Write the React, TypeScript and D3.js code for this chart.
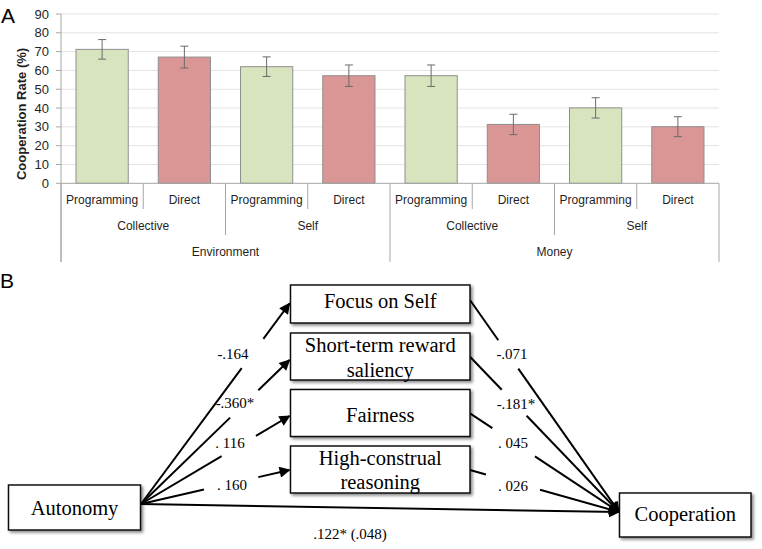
import React from 'react';
import * as d3 from 'd3';

// ---------- Panel A data ----------
const conditions = ["Programming", "Direct", "Programming", "Direct", "Programming", "Direct", "Programming", "Direct"];
const targets = ["Collective", "Self", "Collective", "Self"];
const domains = ["Environment", "Money"];
const cooperationRates = [71.2, 67.1, 62.0, 57.2, 57.2, 31.3, 40.1, 30.1];
const errorMargins = [5.2, 5.8, 5.2, 5.7, 5.7, 5.4, 5.4, 5.3];
const yTicks = [0, 10, 20, 30, 40, 50, 60, 70, 80, 90];

// ---------- Panel B data ----------
const mediators = [["Focus on Self"], ["Short-term reward", "saliency"], ["Fairness"], ["High-construal", "reasoning"]];
const pathA = ["-.164", "-.360*", ". 116", ". 160"];
const pathB = ["-.071", "-.181*", ". 045", ". 026"];
const directEffect = ".122* (.048)";

// ---------- layout ----------
const PLOT = { left: 61, right: 719, top: 14, bottom: 183.3 };
const GREEN = "#d7e4bd";
const RED = "#d99694";

const BOX = {
  autonomy: { x: 8.5, y: 485, w: 132, h: 45, text: 514.5 },
  coop: { x: 619.5, y: 493, w: 131.5, h: 44, text: 521 },
  medX: 290.5,
  medW: 179.5,
  medTop: [285, 333, 389.5, 446],
  medH: [38, 47, 47, 47],
  medBase: [[308], [352, 376.5], [421.5], [464.5, 489]],
};
const ORIGIN = { x: 141, y: 504 };
const SINK = { x: 619, y: 512 };
const leftTipY = [303.5, 360, 416, 470];
const rightStartY = [300, 356.7, 413.3, 470];
const leftGap = [[0.678, 0.824], [0.6, 0.79], [0.543, 0.774], [0.424, 0.79]];
const rightGap = [[0.19, 0.324], [0.213, 0.38], [0.15, 0.436], [0.107, 0.47]];
const leftLabel = [[233, 359], [235, 408], [230, 447.5], [232, 490]];
const rightLabel = [[512, 359], [516, 408.5], [513, 447.5], [513, 491]];

function ChartA() {
  const x = d3.scaleBand<number>().domain(d3.range(conditions.length)).range([PLOT.left, PLOT.right]).padding(0);
  const y = d3.scaleLinear().domain([0, 90]).range([PLOT.bottom, PLOT.top]);
  const bw = x.bandwidth();
  const barW = bw * 0.635;
  const font = "Liberation Sans, Arial, sans-serif";
  const boundaries = d3.range(conditions.length + 1).map((i) => ({
    i,
    x: i < conditions.length ? (x(i) as number) : PLOT.right,
    depth: i % 4 === 0 ? 262 : i % 2 === 0 ? 235 : 209,
  }));
  return (
    <g>
      <text x={1} y={23} fontFamily={font} fontSize={21} fill="#000">A</text>
      {yTicks.filter((t) => t > 0).map((t) => (
        <line key={"g" + t} x1={PLOT.left} x2={PLOT.right} y1={y(t)} y2={y(t)} stroke="#e3e3e3" strokeWidth={1} />
      ))}
      {yTicks.map((t) => (
        <g key={"t" + t}>
          <line x1={56} x2={PLOT.left} y1={y(t)} y2={y(t)} stroke="#a6a6a6" />
          <text x={49} y={y(t)} dy="0.35em" textAnchor="end" fontFamily={font} fontSize={13} fill="#1f1f1f">{t}</text>
        </g>
      ))}
      <text transform={`translate(21.5,${114}) rotate(-90)`} textAnchor="middle" dy="0.35em" fontFamily={font} fontSize={13} fontWeight="bold" fill="#1f1f1f">Cooperation Rate (%)</text>
      {cooperationRates.map((v, i) => {
        const cx = (x(i) as number) + bw / 2;
        return (
          <g key={"b" + i}>
            <rect x={cx - barW / 2} y={y(v)} width={barW} height={y(0) - y(v)} fill={i % 2 === 0 ? GREEN : RED} stroke="#8f8f8f" strokeWidth={1} />
            <line x1={cx} x2={cx} y1={y(v + errorMargins[i])} y2={y(v - errorMargins[i])} stroke="#6b6b6b" strokeWidth={1} />
            <line x1={cx - 4} x2={cx + 4} y1={y(v + errorMargins[i])} y2={y(v + errorMargins[i])} stroke="#6b6b6b" strokeWidth={1} />
            <line x1={cx - 4} x2={cx + 4} y1={y(v - errorMargins[i])} y2={y(v - errorMargins[i])} stroke="#6b6b6b" strokeWidth={1} />
            <text x={cx} y={204} textAnchor="middle" fontFamily={font} fontSize={12} fill="#1f1f1f">{conditions[i]}</text>
          </g>
        );
      })}
      <line x1={PLOT.left} x2={PLOT.right} y1={y(0)} y2={y(0)} stroke="#a6a6a6" strokeWidth={1} />
      <line x1={PLOT.left} x2={PLOT.left} y1={PLOT.top} y2={262} stroke="#a6a6a6" strokeWidth={1} />
      {boundaries.map((b) => (
        <line key={"s" + b.i} x1={b.x} x2={b.x} y1={y(0)} y2={b.depth} stroke="#a6a6a6" strokeWidth={1} />
      ))}
      {targets.map((t, k) => (
        <text key={"l2" + k} x={(x(2 * k) as number) + bw} y={230} textAnchor="middle" fontFamily={font} fontSize={12} fill="#1f1f1f">{t}</text>
      ))}
      {domains.map((t, k) => (
        <text key={"l3" + k} x={(x(4 * k) as number) + 2 * bw} y={256} textAnchor="middle" fontFamily={font} fontSize={12} fill="#1f1f1f">{t}</text>
      ))}
    </g>
  );
}

function seg(x1: number, y1: number, x2: number, y2: number, t0: number, t1: number) {
  return { x1: x1 + (x2 - x1) * t0, y1: y1 + (y2 - y1) * t0, x2: x1 + (x2 - x1) * t1, y2: y1 + (y2 - y1) * t1 };
}

function DiagramB() {
  const serif = "Liberation Serif, Times New Roman, serif";
  const line = d3.line<[number, number]>();
  const sw = 2;
  const parts: any[] = [];
  mediators.forEach((_, i) => {
    const ex = BOX.medX - 1, ey = leftTipY[i];
    const a = seg(ORIGIN.x, ORIGIN.y, ex, ey, 0, leftGap[i][0]);
    const b = seg(ORIGIN.x, ORIGIN.y, ex, ey, leftGap[i][1], 1);
    parts.push(<path key={"la" + i} d={line([[a.x1, a.y1], [a.x2, a.y2]]) as string} stroke="#000" strokeWidth={sw} fill="none" />);
    parts.push(<path key={"lb" + i} d={line([[b.x1, b.y1], [b.x2, b.y2]]) as string} stroke="#000" strokeWidth={sw} fill="none" markerEnd="url(#arr)" />);
    const sx = BOX.medX + BOX.medW, sy = rightStartY[i];
    const c = seg(sx, sy, SINK.x, SINK.y, 0, rightGap[i][0]);
    const d = seg(sx, sy, SINK.x, SINK.y, rightGap[i][1], 1);
    parts.push(<path key={"ra" + i} d={line([[c.x1, c.y1], [c.x2, c.y2]]) as string} stroke="#000" strokeWidth={sw} fill="none" />);
    parts.push(<path key={"rb" + i} d={line([[d.x1, d.y1], [d.x2, d.y2]]) as string} stroke="#000" strokeWidth={sw} fill="none" markerEnd="url(#arr)" />);
  });
  return (
    <g>
      <defs>
        <marker id="arr" viewBox="0 0 10 10" refX={9} refY={5} markerWidth={6} markerHeight={5.5} orient="auto" markerUnits="strokeWidth">
          <path d="M0,0 L10,5 L0,10 Z" fill="#000" />
        </marker>
        <filter id="shadow" x="-10%" y="-10%" width="130%" height="140%">
          <feDropShadow dx={2} dy={2} stdDeviation={1.5} floodColor="#000" floodOpacity={0.45} />
        </filter>
      </defs>
      <text x={0} y={288} fontFamily="Liberation Sans, Arial, sans-serif" fontSize={21} fill="#000">B</text>
      {parts}
      <path d={line([[ORIGIN.x, ORIGIN.y], [SINK.x, SINK.y]]) as string} stroke="#000" strokeWidth={sw} fill="none" markerEnd="url(#arr)" />
      {pathA.map((t, i) => (
        <text key={"pa" + i} x={leftLabel[i][0]} y={leftLabel[i][1]} textAnchor="middle" fontFamily={serif} fontSize={15} fill="#000">{t}</text>
      ))}
      {pathB.map((t, i) => (
        <text key={"pb" + i} x={rightLabel[i][0]} y={rightLabel[i][1]} textAnchor="middle" fontFamily={serif} fontSize={15} fill="#000">{t}</text>
      ))}
      <text x={350} y={539} textAnchor="middle" fontFamily={serif} fontSize={15} fill="#000">{directEffect}</text>
      <rect x={BOX.autonomy.x} y={BOX.autonomy.y} width={BOX.autonomy.w} height={BOX.autonomy.h} fill="#fff" stroke="#111" strokeWidth={1.5} filter="url(#shadow)" />
      <text x={BOX.autonomy.x + BOX.autonomy.w / 2} y={BOX.autonomy.text} textAnchor="middle" fontFamily={serif} fontSize={20.5} fill="#000">Autonomy</text>
      <rect x={BOX.coop.x} y={BOX.coop.y} width={BOX.coop.w} height={BOX.coop.h} fill="#fff" stroke="#111" strokeWidth={1.5} filter="url(#shadow)" />
      <text x={BOX.coop.x + BOX.coop.w / 2} y={BOX.coop.text} textAnchor="middle" fontFamily={serif} fontSize={20.5} fill="#000">Cooperation</text>
      {mediators.map((lines, i) => (
        <g key={"m" + i}>
          <rect x={BOX.medX} y={BOX.medTop[i]} width={BOX.medW} height={BOX.medH[i]} fill="#fff" stroke="#111" strokeWidth={1.5} filter="url(#shadow)" />
          {lines.map((ln, j) => (
            <text key={j} x={BOX.medX + BOX.medW / 2} y={BOX.medBase[i][j]} textAnchor="middle" fontFamily={serif} fontSize={20.5} fill="#000">{ln}</text>
          ))}
        </g>
      ))}
    </g>
  );
}

export default function App() {
  return (
    <svg width={762} height={549} viewBox="0 0 762 549" style={{ position: 'absolute', left: 0, top: 0, background: '#fff' }}>
      <rect x={0} y={0} width={762} height={549} fill="#fff" />
      <ChartA />
      <DiagramB />
    </svg>
  );
}
